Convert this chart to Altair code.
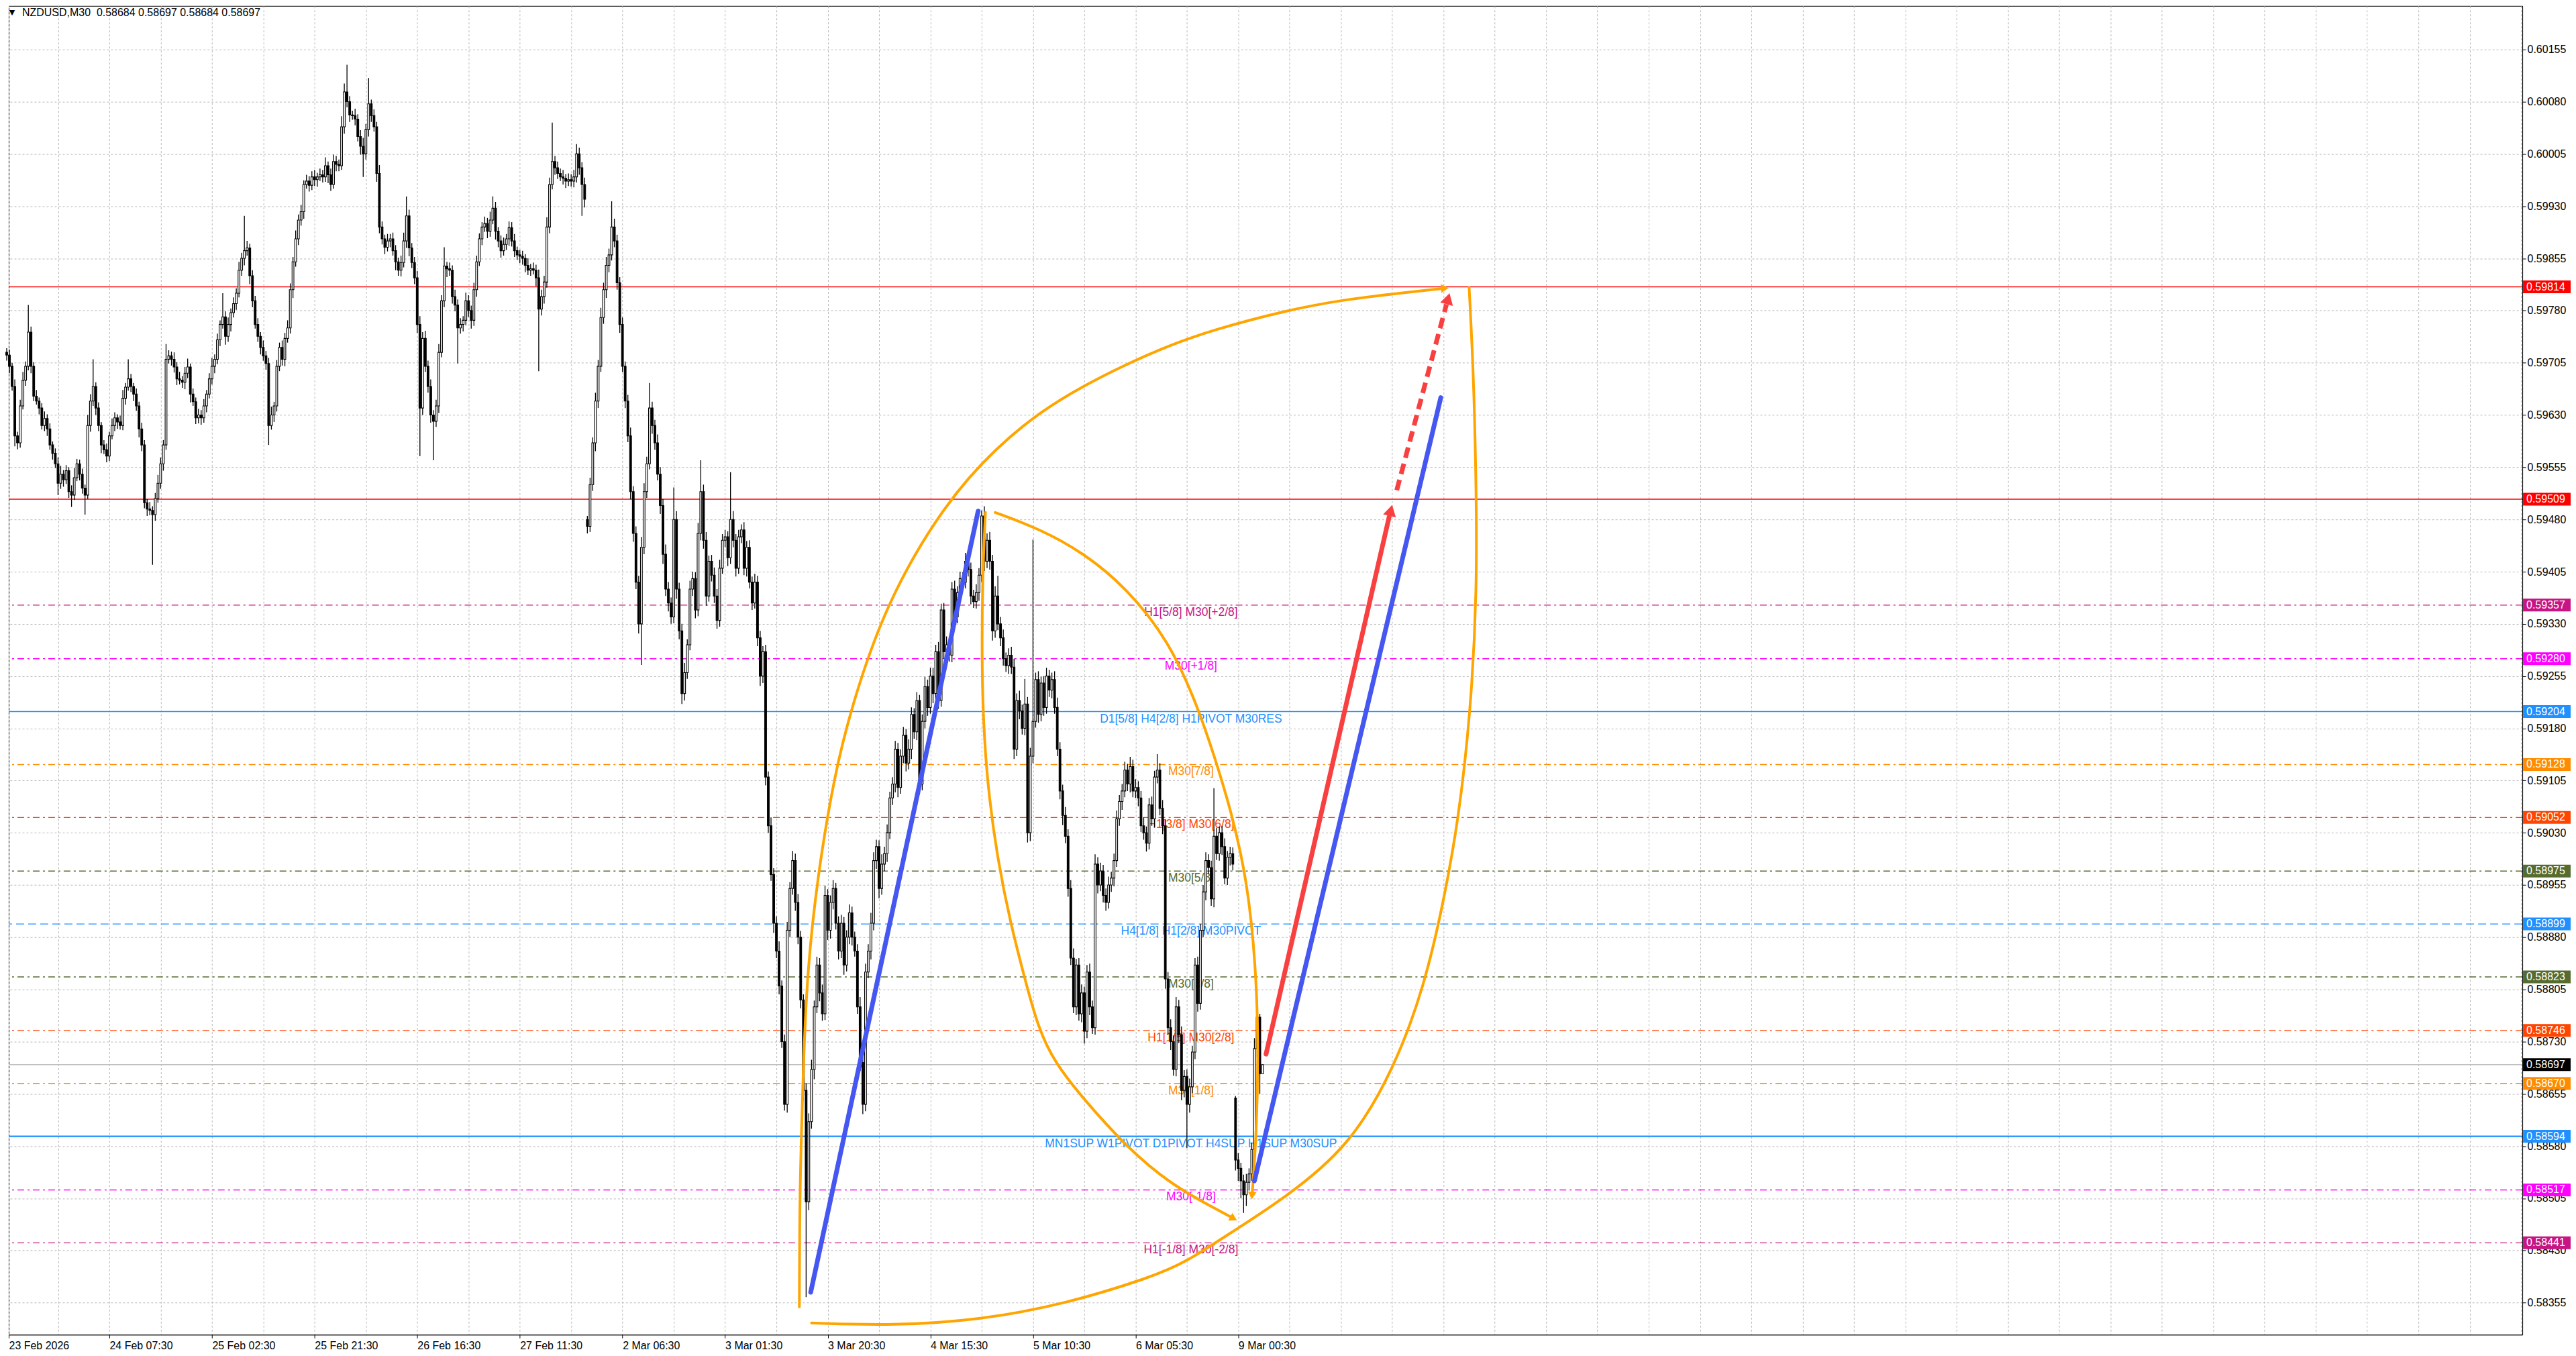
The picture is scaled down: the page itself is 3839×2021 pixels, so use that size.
import json
import altair as alt
import pandas as pd

alt.data_transformers.disable_max_rows()

# ---------------------------------------------------------------- data
TITLE_TEXT = "NZDUSD,M30\u00a0\u00a00.58684 0.58697 0.58684 0.58697"

PRICE_BASE = 0.58
PIP = 0.00001
FIRST_OPEN = 1720
GAP_OPEN = {215: 1480, 455: 649}   # weekend gaps (open differs from previous close)

CLOSE = [
    1716,1700,1671,1600,1590,1643,1680,1700,1749,1700,
    1657,1650,1640,1615,1625,1610,1587,1575,1560,1532,
    1545,1537,1550,1520,1515,1540,1560,1545,1525,1515,
    1615,1650,1671,1640,1615,1587,1580,1571,1600,1615,
    1626,1620,1615,1654,1670,1682,1671,1660,1643,1610,
    1587,1504,1495,1493,1487,1510,1532,1560,1587,1710,
    1715,1710,1699,
    1682,1680,1677,1690,1699,1660,1649,1626,1630,1626,
    1643,1660,1682,1700,1710,1738,1760,1771,1743,1760,
    1777,1790,1805,1838,1855,1866,1870,1830,1794,1760,
    1743,1727,1715,1704,1615,1630,1643,1700,1727,1710,
    1740,1755,1810,1850,1883,1910,1922,1961,1966,1960,
    1972,1968,1972,1975,1972,1988,1975,1961,1994,1990,
    1988,2044,2094,
    2080,2061,2060,2055,2030,2016,2005,2040,2077,2060,
    2044,1977,1900,1883,1871,1880,1883,1866,1850,1838,
    1849,1880,1916,1870,1849,1827,1760,1640,1740,1700,
    1671,1630,1621,1643,1720,1794,1844,1840,1838,1800,
    1788,1755,1760,1766,1794,1780,1766,1810,1850,1883,
    1900,1905,1894,1910,1927,1894,1880,1866,1875,1883,
    1899,1880,1866,1860,1858,
    1855,1845,1838,1840,1838,1827,1782,1800,1821,1900,
    1961,1994,1985,1977,1972,1970,1966,1968,1966,1972,
    2005,1985,1961,1940,
    1470,1530,1590,1650,1700,1770,1810,1845,1860,1900,
    1880,1820,1760,1700,1650,1600,1520,1460,1390,1330,
    1440,1520,1560,1640,1615,1590,1545,1500,1430,1380,
    1360,1340,1480,1380,1320,1230,1260,1300,1380,1395,
    1350,1460,1520,1450,1370,1420,1400,1370,1335,1410,
    1450,1455,1425,1480,1450,1410,1455,1465,1410,1440,
    1390,1360,1390,1310,1255,1290,
    1110,1040,970,900,860,810,730,640,890,950,
    990,930,880,790,660,500,615,690,780,840,
    800,770,940,890,930,950,900,860,900,840,
    880,915,880,860,780,700,640,830,860,900,
    990,1010,950,985,1000,1030,1080,1100,1150,1095,
    1140,1170,1130,1150,1200,1175,1220,1100,1190,1240,
    1210,1255,
    1230,1290,1220,1350,1290,1300,1285,1380,1340,1375,
    1395,1390,1420,1408,1370,1362,1375,1400,1485,1420,
    1450,1420,1320,1370,1330,1310,1280,1270,1285,1268,
    1150,1220,1205,1180,1215,1030,1140,1190,1250,1200,
    1245,1210,1255,1235,1250,1210,1150,1090,1055,1025,
    950,850,780,840,770,800,745,830,780,750,
    985,955,975,940,930,955,965,990,1050,1075,
    1090,1120,1100,1125,1090,1095,1080,1040,1030,1015,
    1070,1050,1110,1120,1065,1040,820,750,730,690,
    780,740,660,680,640,665,715,840,785,890,
    945,990,980,935,1025,1000,1030,1010,965,995,
    1000,985,
    560,548,530,510,528,540,575,720,765,684,697,
]

UPPER_WICK = [
    6,8,5,10,6,9,12,7,39,8,
    6,9,5,7,10,6,8,5,7,9,
    12,6,8,5,9,14,7,6,8,5,
    15,10,39,6,8,5,7,9,6,10,
    8,5,9,12,6,28,7,5,8,6,
    9,7,5,10,6,8,12,9,7,22,
    8,6,10,
    7,10,6,9,12,5,8,6,9,7,
    10,6,8,12,7,9,6,34,8,10,
    6,9,7,12,8,50,10,6,8,7,
    9,6,10,7,8,12,6,9,7,10,
    8,11,9,7,12,8,10,6,9,7,
    8,10,6,9,7,12,6,9,10,8,
    7,15,12,
    39,8,6,10,7,9,12,8,37,6,
    9,7,12,8,6,10,7,9,8,6,
    10,12,28,9,7,8,10,12,9,11,
    8,10,7,9,12,8,27,6,9,7,
    10,8,9,6,12,8,7,10,9,8,
    7,10,8,12,17,9,6,8,10,7,
    9,8,10,6,7,
    8,6,10,7,9,8,12,10,9,14,
    10,56,8,9,7,10,6,9,8,10,
    14,9,8,10,
    5,10,8,12,9,14,10,12,9,37,
    12,9,8,10,7,9,12,8,10,9,
    15,12,10,36,9,8,12,10,9,14,
    10,8,46,12,9,10,14,8,12,10,
    9,15,45,10,12,8,9,11,10,12,
    9,10,8,68,12,9,10,8,11,9,
    10,8,12,9,10,8,
    10,8,12,9,10,14,8,10,12,9,
    14,10,12,9,8,10,12,14,9,12,
    10,12,14,9,10,12,8,10,12,9,
    10,12,9,8,10,14,9,12,10,15,
    12,10,9,14,10,12,9,10,12,9,
    10,12,9,14,10,9,12,8,10,14,
    10,12,
    12,10,14,9,10,12,9,10,12,9,
    10,9,12,8,10,9,12,10,8,14,
    10,12,9,14,29,10,12,9,10,12,
    12,10,14,9,36,10,12,261,10,12,
    9,10,12,9,10,12,14,10,9,12,
    10,12,14,9,10,12,9,10,12,9,
    14,10,12,9,10,12,9,10,12,9,
    10,12,9,14,10,12,9,10,12,9,
    10,12,9,23,10,12,9,10,12,9,
    14,10,12,9,10,12,9,10,12,9,
    10,12,9,10,69,12,9,10,12,9,
    10,9,
    3,10,8,9,12,8,10,15,27,5,0,
]

LOWER_WICK = [
    8,10,6,15,9,7,5,8,6,10,
    7,5,9,6,8,10,7,9,6,17,
    8,10,6,9,17,7,5,9,8,28,
    6,9,7,10,8,12,6,9,7,5,
    8,10,6,7,9,5,8,10,7,12,
    9,8,10,7,72,9,6,8,10,7,
    6,9,8,
    9,6,8,10,7,12,6,9,8,10,
    7,9,6,8,10,7,9,6,12,8,
    10,7,9,6,8,10,7,12,9,6,
    8,10,7,9,28,6,10,8,7,9,
    10,6,8,12,7,9,8,10,6,9,
    7,9,10,6,8,7,12,9,6,10,
    8,6,10,
    8,10,6,9,7,12,33,8,10,9,
    7,12,9,8,10,6,9,7,12,8,
    9,7,10,12,8,9,12,69,10,8,
    9,11,56,8,10,7,9,12,8,10,
    9,51,8,10,7,9,12,8,10,6,
    9,7,10,8,6,12,9,10,7,8,
    10,8,9,7,10,
    9,10,7,8,6,12,89,9,10,8,
    9,7,10,8,6,9,10,7,8,9,
    8,10,45,12,
    10,8,9,12,10,8,9,12,10,8,
    9,10,12,8,10,9,11,12,10,14,
    59,10,9,8,12,10,9,12,14,10,
    12,10,9,14,12,15,10,9,8,10,
    12,9,10,12,14,8,9,10,12,9,
    8,10,12,9,10,12,8,9,10,12,
    9,10,8,12,14,10,
    12,10,9,14,10,12,9,9,12,10,
    9,12,10,12,14,137,12,10,14,9,
    12,10,9,14,12,10,9,12,10,14,
    9,10,12,8,10,12,14,10,9,12,
    10,12,14,9,10,12,9,10,12,14,
    9,10,12,9,14,10,12,15,9,10,
    12,9,
    14,10,12,9,10,12,9,10,12,9,
    10,12,9,10,12,9,10,12,10,14,
    10,12,14,10,9,12,10,9,12,10,
    14,10,12,9,10,14,12,10,9,12,
    10,12,9,10,12,9,10,12,14,10,
    12,10,9,12,10,12,18,10,12,9,
    10,12,9,10,12,9,10,12,9,10,
    12,9,10,12,9,10,12,9,10,12,
    9,10,12,9,10,12,14,10,12,9,
    10,12,14,10,63,12,9,10,12,9,
    10,12,9,10,12,9,10,12,9,10,
    12,9,
    15,18,25,26,16,12,10,8,12,29,0,
]

TIME_LABELS = ["23 Feb 2026", "24 Feb 07:30", "25 Feb 02:30", "25 Feb 21:30",
               "26 Feb 16:30", "27 Feb 11:30", "2 Mar 06:30", "3 Mar 01:30",
               "3 Mar 20:30", "4 Mar 15:30", "5 Mar 10:30", "6 Mar 05:30",
               "9 Mar 00:30"]
BARS_PER_LABEL = 38
BARS_PER_GRID = 19
LAST_SLOT = 931

PRICE_TICKS = [0.58355, 0.58430, 0.58505, 0.58580, 0.58655, 0.58730, 0.58805,
               0.58880, 0.58955, 0.59030, 0.59105, 0.59180, 0.59255, 0.59330,
               0.59405, 0.59480, 0.59555, 0.59630, 0.59705, 0.59780, 0.59855,
               0.59930, 0.60005, 0.60080, 0.60155]

LEVEL_PRICE = [0.59814, 0.59509, 0.59357, 0.59280, 0.59204, 0.59128, 0.59052,
               0.58975, 0.58899, 0.58823, 0.58746, 0.58697, 0.58670, 0.58594,
               0.58517, 0.58441]
LEVEL_TEXT = ["", "", "H1[5/8] M30[+2/8]", "M30[+1/8]",
              "D1[5/8] H4[2/8] H1PIVOT M30RES", "M30[7/8]", "H1[3/8] M30[6/8]",
              "M30[5/8]", "H4[1/8] H1[2/8] M30PIVOT", "M30[3/8]",
              "H1[1/8] M30[2/8]", "", "M30[1/8]",
              "MN1SUP W1PIVOT D1PIVOT H4SUP H1SUP M30SUP", "M30[-1/8]",
              "H1[-1/8] M30[-2/8]"]
LEVEL_COLOR = ["#FF0000", "#FF0000", "#C71585", "#FF00FF", "#1E90FF", "#FF8C00",
               "#FF4500", "#556B2F", "#1E90FF", "#556B2F", "#FF4500", "#C0C0C0",
               "#FF8C00", "#1E90FF", "#FF00FF", "#C71585"]
LEVEL_STYLE = ["solid", "solid", "dashdot", "dashdot", "solid", "dashdot",
               "dashdot", "dashdot", "dash", "dashdot", "dashdot", "solid",
               "dashdot", "thick", "dashdot", "dashdot"]
TAG_COLOR = ["#FF0000", "#FF0000", "#C71585", "#FF00FF", "#1E90FF", "#FF8C00",
             "#FF4500", "#556B2F", "#1E90FF", "#556B2F", "#FF4500", "#000000",
             "#FF8C00", "#1E90FF", "#FF00FF", "#C71585"]
LEVEL_TEXT_BAR = 438.5

# drawn objects, anchored in (bar index, pips above 0.58000)
BLUE_LINES = [[(297.7, 370), (359.7, 1492)],
              [(462.0, 530), (531.0, 1655)]]
RED_SOLID = [(466.3, 712), (511.9, 1484)]
RED_DASHED = [(514.7, 1522), (533.1, 1789)]
ARCS = {
    "outer_left": [(293.5, 349), (293.6, 492), (294.2, 592), (295.2, 721),
                   (296.5, 831), (300.0, 962), (306.4, 1112), (312.8, 1211),
                   (325.5, 1360), (347.8, 1506), (366.9, 1585), (382.8, 1635),
                   (398.7, 1672), (414.6, 1703), (430.5, 1730), (446.4, 1752),
                   (473.4, 1780), (495.3, 1796), (520.1, 1807), (532.5, 1812)],
    "outer_right": [(541.5, 1813), (543.0, 1700), (544.0, 1560), (544.5, 1377),
                    (542.0, 1200), (537.5, 1047), (532.0, 930), (525.0, 811),
                    (514.0, 693), (497.0, 578), (472.7, 504), (455.0, 460),
                    (436.2, 412), (424.0, 392), (392.0, 353), (360.0, 330),
                    (328.0, 322), (298.0, 326)],
    "inner_left": [(362.4, 1490), (361.3, 1400), (361.0, 1262), (362.0, 1160),
                   (363.7, 1082), (366.9, 992), (371.6, 901), (377.0, 820),
                   (381.9, 750), (388.0, 700), (398.6, 648), (414.8, 578),
                   (431.0, 525), (448.0, 489), (454.3, 476)],
    "inner_right": [(366.0, 1490), (382.8, 1466), (398.7, 1432), (414.6, 1382),
                    (430.5, 1305), (441.0, 1211), (447.0, 1142), (453.5, 1060),
                    (459.3, 962), (462.5, 842), (463.5, 721), (462.8, 600),
                    (461.2, 512)],
}
ARROW_HEADS = [  # bar, pips, angle (deg clockwise), colour, symbol area
    (512.5, 1493, 13.6, "#F94040", 380),
    (533.7, 1797, 15.1, "#F94040", 380),
    (532.5, 1812, 86.0, "#FFA500", 170),
    (454.3, 476, 118.0, "#FFA500", 170),
    (461.1, 509, 184.0, "#FFA500", 170),
]

# ---------------------------------------------------------------- layout
W, H = 3749, 1982
BAR_PX = 4.028                       # horizontal pixels per bar
X_MIN = 3.0 / BAR_PX                 # bar 0 sits 3 px left of the frame, as in MT4
X_MAX = X_MIN + W / BAR_PX
Y_MIN, Y_MAX = 0.583091, 0.602176
FONT = "Liberation Sans, Arial, sans-serif"
BLUE = "#4557F0"
RED = "#F94040"
ORANGE = "#FFA500"

xs = alt.Scale(domain=[X_MIN, X_MAX], nice=False, zero=False)
ys = alt.Scale(domain=[Y_MIN, Y_MAX], nice=False, zero=False)

# the first tick (23 Feb 2026) sits at the very left edge of the frame
x_tick_values = [round(X_MIN + 0.001, 3)] + list(range(BARS_PER_GRID, LAST_SLOT + 1, BARS_PER_GRID))
label_js = json.dumps(TIME_LABELS)
last_label_bar = BARS_PER_LABEL * (len(TIME_LABELS) - 1)
label_test = (f"abs(datum.value / {BARS_PER_LABEL} - round(datum.value / {BARS_PER_LABEL})) < 0.05"
              f" && datum.value <= {last_label_bar + 1}")
X_AXIS = alt.Axis(
    values=x_tick_values,
    labelExpr=f"({label_test}) ? {label_js}[round(datum.value / {BARS_PER_LABEL})] : ''",
    grid=True, gridDash=[3, 3], gridColor="#b8b8b8", gridWidth=1,
    ticks=True, tickSize=5, tickColor="black",
    tickOpacity={"condition": {"test": label_test, "value": 1}, "value": 0},
    domain=True, domainColor="black", domainWidth=1,
    labelFont=FONT, labelFontSize=16, labelColor="black", labelAlign="left",
    labelBaseline="top", labelPadding=3, labelFlush=False, labelOverlap=False,
    labelBound=False, title=None,
)
Y_AXIS = alt.Axis(
    orient="right", values=PRICE_TICKS, format=".5f",
    grid=True, gridDash=[3, 3], gridColor="#b8b8b8", gridWidth=1,
    tickSize=5, tickColor="black", domainColor="black", domainWidth=1,
    labelFont=FONT, labelFontSize=16, labelColor="black", labelPadding=2,
    labelOverlap=False, labelFlush=False, title=None,
)


def px(p):
    return PRICE_BASE + p * PIP


def X(field):
    return alt.X(field, type="quantitative", scale=xs, axis=X_AXIS)


def Y(field):
    return alt.Y(field, type="quantitative", scale=ys, axis=Y_AXIS)


# candles
n = min(len(CLOSE), len(UPPER_WICK), len(LOWER_WICK))
rows = []
for i in range(n):
    o = GAP_OPEN.get(i, CLOSE[i - 1] if i > 0 else FIRST_OPEN)
    c = CLOSE[i]
    hi = max(o, c) + UPPER_WICK[i]
    lo = min(o, c) - LOWER_WICK[i]
    rows.append(dict(bar=i, x0=i - 0.34, x1=i + 0.34, open=px(o), close=px(c),
                     high=px(hi), low=px(lo),
                     fill="white" if c >= o else "black"))
candles = pd.DataFrame(rows)

layers = []

# level lines
lv = pd.DataFrame({"price": LEVEL_PRICE, "text": LEVEL_TEXT, "color": LEVEL_COLOR,
                   "style": LEVEL_STYLE, "tag": TAG_COLOR})
lv["bar"] = LEVEL_TEXT_BAR
lv["label"] = lv["price"].map(lambda v: f"{v:.5f}")
half_tag = 9.5 * (Y_MAX - Y_MIN) / H
lv["lo"] = lv["price"] - half_tag
lv["hi"] = lv["price"] + half_tag

STYLE_PROPS = {
    "solid": dict(strokeWidth=1.5),
    "thick": dict(strokeWidth=2.2),
    "dashdot": dict(strokeWidth=1.4, strokeDash=[10, 5, 3, 5]),
    "dash": dict(strokeWidth=1.4, strokeDash=[12, 6]),
}
for style, props in STYLE_PROPS.items():
    layers.append(
        alt.Chart(lv).transform_filter(alt.datum.style == style)
        .mark_rule(**props)
        .encode(y=Y("price:Q"), color=alt.Color("color:N", scale=None))
    )

layers.append(
    alt.Chart(lv[lv["text"] != ""]).mark_text(
        align="center", baseline="middle", dy=11, fontSize=17.5, font=FONT
    ).encode(x=X("bar:Q"), y=Y("price:Q"), text="text:N",
             color=alt.Color("color:N", scale=None))
)

# candles: wicks then bodies
layers.append(
    alt.Chart(candles).mark_rule(color="black", strokeWidth=1.3).encode(
        x=X("bar:Q"), y=Y("low:Q"), y2="high:Q")
)
layers.append(
    alt.Chart(candles).mark_rect(stroke="black", strokeWidth=1.1).encode(
        x=X("x0:Q"), x2="x1:Q", y=Y("open:Q"), y2="close:Q",
        fill=alt.Fill("fill:N", scale=None))
)

# orange arcs
arc_rows = []
for name, pts in ARCS.items():
    for k, (b, p) in enumerate(pts):
        arc_rows.append(dict(arc=name, k=k, bar=b, price=px(p)))
arcs = pd.DataFrame(arc_rows)
layers.append(
    alt.Chart(arcs).mark_line(color=ORANGE, strokeWidth=4, interpolate="basis",
                              strokeCap="round").encode(
        x=X("bar:Q"), y=Y("price:Q"), detail="arc:N", order="k:Q")
)

# blue trend lines
blue_rows = []
for s, pts in enumerate(BLUE_LINES):
    for k, (b, p) in enumerate(pts):
        blue_rows.append(dict(seg=s, k=k, bar=b, price=px(p)))
layers.append(
    alt.Chart(pd.DataFrame(blue_rows)).mark_line(color=BLUE, strokeWidth=7,
                                                 strokeCap="round").encode(
        x=X("bar:Q"), y=Y("price:Q"), detail="seg:N", order="k:Q")
)

# red arrow
red_solid = pd.DataFrame([dict(k=k, bar=b, price=px(p)) for k, (b, p) in enumerate(RED_SOLID)])
red_dashed = pd.DataFrame([dict(k=k, bar=b, price=px(p)) for k, (b, p) in enumerate(RED_DASHED)])
layers.append(
    alt.Chart(red_solid).mark_line(color=RED, strokeWidth=7, strokeCap="round").encode(
        x=X("bar:Q"), y=Y("price:Q"), order="k:Q")
)
layers.append(
    alt.Chart(red_dashed).mark_line(color=RED, strokeWidth=7, strokeDash=[16, 9]).encode(
        x=X("bar:Q"), y=Y("price:Q"), order="k:Q")
)

heads = pd.DataFrame([dict(bar=b, price=px(p), angle=a, color=c, size=s)
                      for b, p, a, c, s in ARROW_HEADS])
layers.append(
    alt.Chart(heads).mark_point(shape="triangle-up", filled=True, opacity=1,
                                strokeWidth=0).encode(
        x=X("bar:Q"), y=Y("price:Q"),
        angle=alt.Angle("angle:Q", scale=None),
        color=alt.Color("color:N", scale=None),
        size=alt.Size("size:Q", scale=None))
)

# price tags on the right axis
layers.append(
    alt.Chart(lv).mark_rect().encode(
        x=alt.value(W + 1), x2=alt.value(W + 72),
        y=Y("lo:Q"), y2="hi:Q", color=alt.Color("tag:N", scale=None))
)
layers.append(
    alt.Chart(lv).mark_text(align="left", baseline="middle", fontSize=16,
                            font=FONT, color="white").encode(
        x=alt.value(W + 6), y=Y("price:Q"), text="label:N")
)

# title row
title_df = pd.DataFrame({"t": [TITLE_TEXT], "m": ["\u25bc"]})
layers.append(
    alt.Chart(title_df).mark_text(align="left", baseline="middle", fontSize=16,
                                  font=FONT, color="black").encode(
        x=alt.value(20), y=alt.value(10), text="t:N")
)
layers.append(
    alt.Chart(title_df).mark_text(align="center", baseline="middle", fontSize=11,
                                  font="DejaVu Sans", color="black").encode(
        x=alt.value(5), y=alt.value(10), text="m:N")
)

chart = (
    alt.layer(*layers)
    .properties(width=W, height=H, padding=0, background="white")
    .configure_view(stroke="black", strokeWidth=1)
)

chart.save("out.html", embed_options={"renderer": "svg", "actions": False})
